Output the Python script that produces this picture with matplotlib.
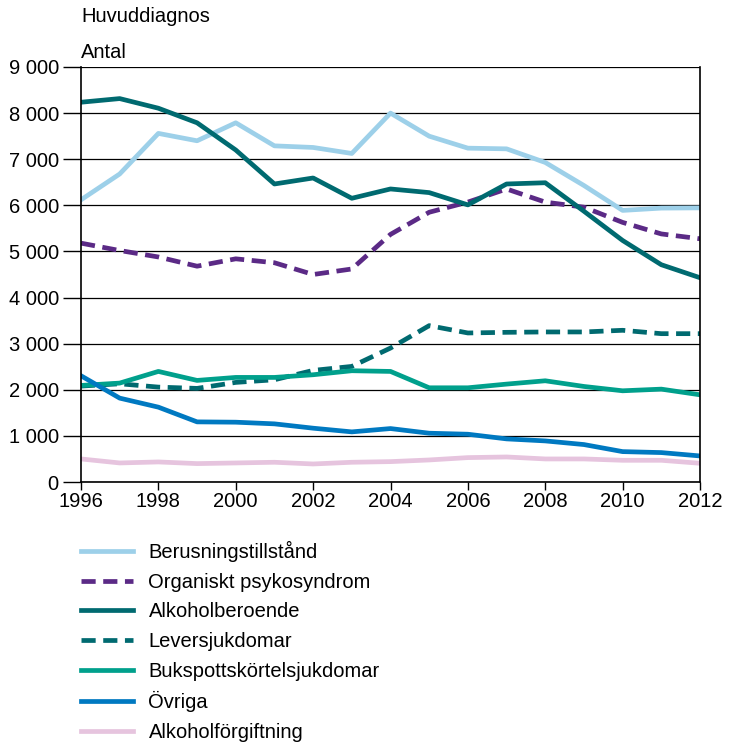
import matplotlib.pyplot as plt
import matplotlib.ticker as mticker

plt.rcParams['font.family'] = ['Liberation Sans', 'DejaVu Sans']

years = list(range(1996, 2013))

berusning = [6120, 6680, 7560, 7400, 7790, 7290, 7255, 7125, 8000, 7500,
             7240, 7225, 6930, 6430, 5890, 5940, 5945]
organiskt = [5180, 5020, 4880, 4680, 4840, 4755, 4500, 4620, 5370, 5850,
             6070, 6355, 6070, 5960, 5630, 5380, 5275]
beroende = [8236, 8315, 8106, 7790, 7200, 6463, 6593, 6153, 6355, 6276,
            6010, 6463, 6490, 5872, 5238, 4712, 4430]
lever = [2080, 2130, 2058, 2030, 2160, 2217, 2420, 2507, 2905, 3391,
         3232, 3246, 3254, 3254, 3290, 3217, 3217]
bukspott = [2094, 2145, 2398, 2203, 2268, 2268, 2326, 2413, 2398, 2043,
            2043, 2123, 2195, 2072, 1978, 2014, 1891]
ovriga = [2304, 1819, 1623, 1304, 1297, 1261, 1167, 1087, 1159, 1058,
          1036, 935, 891, 812, 659, 638, 565]
forgiftning = [500, 413, 435, 399, 413, 428, 391, 428, 442, 478,
               529, 543, 500, 500, 471, 471, 406]

series = [
    ('Berusningstillstånd', berusning, '#9dd0e9', '-'),
    ('Organiskt psykosyndrom', organiskt, '#5b2a86', '--'),
    ('Alkoholberoende', beroende, '#006a70', '-'),
    ('Leversjukdomar', lever, '#006a70', '--'),
    ('Bukspottskörtelsjukdomar', bukspott, '#00a08c', '-'),
    ('Övriga', ovriga, '#0079c1', '-'),
    ('Alkoholförgiftning', forgiftning, '#e6c4de', '-'),
]

fs = 14.5

fig = plt.figure(figsize=(7.33, 7.45), dpi=100)
ax = fig.add_axes([81 / 733, 1 - 482 / 745, 619 / 733, 415 / 745])

handles = []
for name, vals, color, ls in series:
    if ls == '--':
        h, = ax.plot(years, vals, color=color, lw=3.4, ls=(0, (3, 1.6)), label=name)
    else:
        h, = ax.plot(years, vals, color=color, lw=3.4, ls=ls, label=name)
    handles.append(h)

ax.set_xlim(1996, 2012)
ax.set_ylim(0, 9000)
ax.set_xticks(range(1996, 2013, 2))
ax.set_yticks(range(0, 9001, 1000))
ax.yaxis.set_major_formatter(mticker.FuncFormatter(lambda v, p: f'{int(v):,}'.replace(',', ' ')))
ax.grid(axis='y', color='black', lw=0.9)
ax.set_axisbelow(True)
ax.tick_params(axis='y', length=13, width=1, labelsize=fs, pad=3)
ax.tick_params(axis='x', length=6, width=1, labelsize=fs, pad=1)
ax.spines['top'].set_visible(False)
for s in ['left', 'right', 'bottom']:
    ax.spines[s].set_linewidth(1.2)

fig.text(81 / 733, 1 - 16 / 745, 'Huvuddiagnos', fontsize=fs, va='center', ha='left')
fig.text(81 / 733, 1 - 52 / 745, 'Antal', fontsize=fs, va='center', ha='left')

leg = fig.legend(handles=handles, loc='upper left', bbox_to_anchor=(81 / 733, 1 - 541 / 745),
                 frameon=False, fontsize=fs, handlelength=2.6, handletextpad=0.75,
                 labelspacing=0.53, borderpad=0, borderaxespad=0)

fig.savefig('out.png', dpi=100)
